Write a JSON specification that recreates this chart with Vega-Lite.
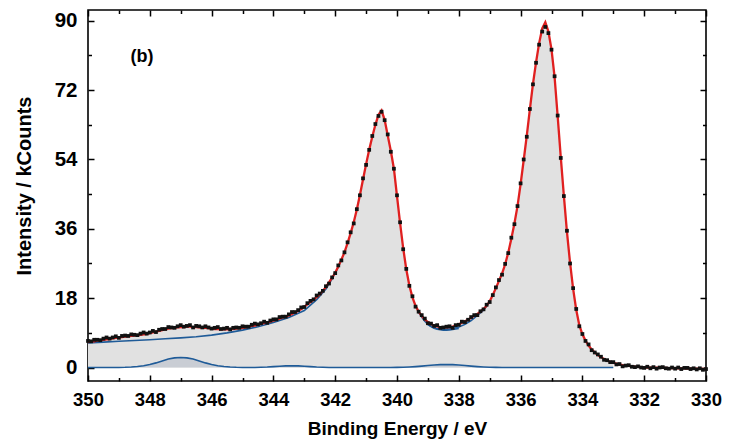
{
"$schema":"https://vega.github.io/schema/vega-lite/v6.json",
"width":618,"height":371,
"autosize":"none",
"padding":{"left":88,"top":10,"right":23,"bottom":65},
"config":{"view":{"stroke":"black","strokeWidth":1.6},"font":"Liberation Sans","axis":{"grid":false,"domain":false}},
"datasets":{
"spec":[
{"e":350.0,"f":6.6,"d":6.9},{"e":349.9,"f":6.7,"d":6.8},{"e":349.8,"f":6.8,"d":7.2},{"e":349.7,"f":7.0,"d":7.2},{"e":349.6,"f":7.1,"d":7.1},{"e":349.5,"f":7.2,"d":7.5},{"e":349.4,"f":7.3,"d":7.8},{"e":349.3,"f":7.4,"d":7.5},{"e":349.2,"f":7.6,"d":7.8},{"e":349.1,"f":7.7,"d":8.1},
{"e":349.0,"f":7.8,"d":7.7},{"e":348.9,"f":7.9,"d":8.2},{"e":348.8,"f":8.0,"d":8.3},{"e":348.7,"f":8.1,"d":8.2},{"e":348.6,"f":8.2,"d":8.6},{"e":348.5,"f":8.3,"d":8.5},{"e":348.4,"f":8.4,"d":8.4},{"e":348.3,"f":8.5,"d":8.8},{"e":348.2,"f":8.6,"d":9.1},{"e":348.1,"f":8.7,"d":8.8},
{"e":348.0,"f":8.9,"d":9.1},{"e":347.9,"f":9.1,"d":9.5},{"e":347.8,"f":9.3,"d":9.2},{"e":347.7,"f":9.5,"d":9.8},{"e":347.6,"f":9.7,"d":10.0},{"e":347.5,"f":9.9,"d":10.0},{"e":347.4,"f":10.1,"d":10.5},{"e":347.3,"f":10.2,"d":10.4},{"e":347.2,"f":10.3,"d":10.3},{"e":347.1,"f":10.4,"d":10.7},
{"e":347.0,"f":10.5,"d":11.0},{"e":346.9,"f":10.5,"d":10.6},{"e":346.8,"f":10.6,"d":10.8},{"e":346.7,"f":10.6,"d":11.0},{"e":346.6,"f":10.5,"d":10.4},{"e":346.5,"f":10.5,"d":10.8},{"e":346.4,"f":10.4,"d":10.7},{"e":346.3,"f":10.3,"d":10.4},{"e":346.2,"f":10.3,"d":10.7},{"e":346.1,"f":10.2,"d":10.4},
{"e":346.0,"f":10.1,"d":10.1},{"e":345.9,"f":10.0,"d":10.3},{"e":345.8,"f":10.0,"d":10.5},{"e":345.7,"f":9.9,"d":10.0},{"e":345.6,"f":9.9,"d":10.1},{"e":345.5,"f":9.9,"d":10.3},{"e":345.4,"f":10.0,"d":9.9},{"e":345.3,"f":10.0,"d":10.3},{"e":345.2,"f":10.1,"d":10.4},{"e":345.1,"f":10.2,"d":10.3},
{"e":345.0,"f":10.3,"d":10.7},{"e":344.9,"f":10.4,"d":10.6},{"e":344.8,"f":10.6,"d":10.6},{"e":344.7,"f":10.8,"d":11.1},{"e":344.6,"f":10.9,"d":11.4},{"e":344.5,"f":11.1,"d":11.2},{"e":344.4,"f":11.3,"d":11.5},{"e":344.3,"f":11.5,"d":11.9},{"e":344.2,"f":11.7,"d":11.6},{"e":344.1,"f":11.9,"d":12.2},
{"e":344.0,"f":12.2,"d":12.5},{"e":343.9,"f":12.4,"d":12.5},{"e":343.8,"f":12.7,"d":13.1},{"e":343.7,"f":13.0,"d":13.2},{"e":343.6,"f":13.2,"d":13.2},{"e":343.5,"f":13.5,"d":13.8},{"e":343.4,"f":13.9,"d":14.4},{"e":343.3,"f":14.3,"d":14.4},{"e":343.2,"f":14.7,"d":14.9},{"e":343.1,"f":15.2,"d":15.6},
{"e":343.0,"f":15.8,"d":15.7},{"e":342.9,"f":16.4,"d":16.7},{"e":342.8,"f":17.0,"d":17.3},{"e":342.7,"f":17.6,"d":17.7},{"e":342.6,"f":18.3,"d":18.7},{"e":342.5,"f":19.0,"d":19.2},{"e":342.4,"f":19.9,"d":19.9},{"e":342.3,"f":20.9,"d":21.1},{"e":342.2,"f":22.1,"d":21.8},{"e":342.1,"f":23.3,"d":23.4},
{"e":342.0,"f":24.6,"d":24.5},{"e":341.9,"f":26.2,"d":26.5},{"e":341.8,"f":28.0,"d":27.8},{"e":341.7,"f":29.9,"d":29.9},{"e":341.6,"f":32.3,"d":32.5},{"e":341.5,"f":34.9,"d":35.1},{"e":341.4,"f":37.7,"d":37.4},{"e":341.3,"f":41.0,"d":41.1},{"e":341.2,"f":44.8,"d":44.7},{"e":341.1,"f":48.8,"d":49.1},
{"e":341.0,"f":52.8,"d":52.6},{"e":340.9,"f":56.5,"d":56.5},{"e":340.8,"f":59.9,"d":60.1},{"e":340.7,"f":63.0,"d":63.2},{"e":340.6,"f":65.6,"d":65.3},{"e":340.5,"f":66.7,"d":66.4},{"e":340.4,"f":64.3,"d":64.2},{"e":340.3,"f":60.2,"d":60.5},{"e":340.2,"f":56.2,"d":56.0},{"e":340.1,"f":51.6,"d":51.6},
{"e":340.0,"f":44.5,"d":44.7},{"e":339.9,"f":37.5,"d":37.7},{"e":339.8,"f":31.0,"d":30.7},{"e":339.7,"f":25.5,"d":25.6},{"e":339.6,"f":21.3,"d":21.2},{"e":339.5,"f":18.2,"d":18.5},{"e":339.4,"f":16.0,"d":15.8},{"e":339.3,"f":14.5,"d":14.5},{"e":339.2,"f":13.4,"d":13.6},{"e":339.1,"f":12.5,"d":12.7},
{"e":339.0,"f":11.8,"d":11.5},{"e":338.9,"f":11.3,"d":11.4},{"e":338.8,"f":10.9,"d":10.8},{"e":338.7,"f":10.7,"d":11.0},{"e":338.6,"f":10.5,"d":10.3},{"e":338.5,"f":10.4,"d":10.4},{"e":338.4,"f":10.4,"d":10.6},{"e":338.3,"f":10.5,"d":10.7},{"e":338.2,"f":10.6,"d":10.3},{"e":338.1,"f":10.9,"d":11.0},
{"e":338.0,"f":11.2,"d":11.1},{"e":337.9,"f":11.6,"d":11.9},{"e":337.8,"f":12.0,"d":11.8},{"e":337.7,"f":12.4,"d":12.4},{"e":337.6,"f":12.9,"d":13.1},{"e":337.5,"f":13.4,"d":13.6},{"e":337.4,"f":13.9,"d":13.6},{"e":337.3,"f":14.5,"d":14.6},{"e":337.2,"f":15.2,"d":15.1},{"e":337.1,"f":16.0,"d":16.3},
{"e":337.0,"f":17.2,"d":17.0},{"e":336.9,"f":18.8,"d":18.8},{"e":336.8,"f":20.6,"d":20.8},{"e":336.7,"f":22.5,"d":22.7},{"e":336.6,"f":24.4,"d":24.1},{"e":336.5,"f":26.8,"d":26.9},{"e":336.4,"f":29.8,"d":29.7},{"e":336.3,"f":33.4,"d":33.7},{"e":336.2,"f":37.4,"d":37.2},{"e":336.1,"f":41.9,"d":41.9},
{"e":336.0,"f":47.6,"d":47.8},{"e":335.9,"f":53.8,"d":54.0},{"e":335.8,"f":60.2,"d":59.9},{"e":335.7,"f":67.0,"d":67.1},{"e":335.6,"f":73.6,"d":73.5},{"e":335.5,"f":79.2,"d":79.1},{"e":335.4,"f":84.2,"d":83.8},{"e":335.3,"f":88.0,"d":87.2},{"e":335.2,"f":89.6,"d":88.4},{"e":335.1,"f":87.2,"d":86.8},
{"e":335.0,"f":82.6,"d":82.5},{"e":334.9,"f":75.4,"d":75.6},{"e":334.8,"f":65.2,"d":65.4},{"e":334.7,"f":54.6,"d":54.4},{"e":334.6,"f":44.6,"d":44.5},{"e":334.5,"f":35.2,"d":35.5},{"e":334.4,"f":27.2,"d":27.0},{"e":334.3,"f":20.4,"d":20.6},{"e":334.2,"f":15.0,"d":15.2},{"e":334.1,"f":11.0,"d":10.7},
{"e":334.0,"f":8.6,"d":8.7},{"e":333.9,"f":7.0,"d":6.9},{"e":333.8,"f":5.7,"d":6.0},{"e":333.7,"f":4.7,"d":4.5},{"e":333.6,"f":3.9,"d":3.9},{"e":333.5,"f":3.2,"d":3.4},{"e":333.4,"f":2.7,"d":2.8},{"e":333.3,"f":2.2,"d":2.0},{"e":333.2,"f":1.8,"d":1.9},{"e":333.1,"f":1.5,"d":1.4},
{"e":333.0,"f":1.2,"d":1.4},{"e":332.9,"f":1.0,"d":0.8},{"e":332.8,"f":0.8,"d":0.9},{"e":332.7,"f":0.6,"d":0.3},{"e":332.6,"f":0.5,"d":0.5},{"e":332.5,"f":0.4,"d":0.6},{"e":332.4,"f":0.3,"d":0.2},{"e":332.3,"f":0.2,"d":0.1},{"e":332.2,"f":0.15,"d":0.3},{"e":332.1,"f":0.1,"d":0.0},
{"e":332.0,"f":0.05,"d":-0.1},{"e":331.9,"f":0.0,"d":0.2},{"e":331.8,"f":-0.02,"d":-0.2},{"e":331.7,"f":-0.04,"d":0.1},{"e":331.6,"f":-0.06,"d":-0.3},{"e":331.5,"f":-0.08,"d":0.0},{"e":331.4,"f":-0.1,"d":0.1},{"e":331.3,"f":-0.12,"d":-0.2},{"e":331.2,"f":-0.14,"d":-0.3},{"e":331.1,"f":-0.16,"d":0.0},
{"e":331.0,"f":-0.18,"d":-0.3},{"e":330.9,"f":-0.2,"d":0.0},{"e":330.8,"f":-0.22,"d":-0.4},{"e":330.7,"f":-0.24,"d":-0.1},{"e":330.6,"f":-0.26,"d":-0.1},{"e":330.5,"f":-0.28,"d":-0.4},{"e":330.4,"f":-0.3,"d":-0.2},{"e":330.3,"f":-0.32,"d":-0.5},{"e":330.2,"f":-0.34,"d":-0.2},{"e":330.1,"f":-0.36,"d":-0.6},
{"e":330.0,"f":-0.38,"d":-0.4}
],
"blue":[
{"g":"A","e":350.0,"v":6.4},{"g":"A","e":349.5,"v":6.6},{"g":"A","e":349.0,"v":6.8},{"g":"A","e":348.5,"v":7.0},{"g":"A","e":348.0,"v":7.2},{"g":"A","e":347.5,"v":7.45},{"g":"A","e":347.0,"v":7.7},{"g":"A","e":346.5,"v":8.0},{"g":"A","e":346.0,"v":8.4},{"g":"A","e":345.5,"v":9.0},{"g":"A","e":345.0,"v":9.7},{"g":"A","e":344.5,"v":10.6},{"g":"A","e":344.0,"v":11.7},{"g":"A","e":343.5,"v":13.0},{"g":"A","e":343.0,"v":14.8},{"g":"A","e":342.6,"v":17.6},{"g":"A","e":342.3,"v":20.4},{"g":"A","e":342.1,"v":23.0},{"g":"A","e":341.9,"v":26.1},
{"g":"V1","e":339.3,"v":14.3},{"g":"V1","e":339.2,"v":13.1},{"g":"V1","e":339.1,"v":12.0},{"g":"V1","e":339.0,"v":11.2},{"g":"V1","e":338.9,"v":10.6},{"g":"V1","e":338.8,"v":10.2},{"g":"V1","e":338.7,"v":9.95},{"g":"V1","e":338.6,"v":9.8},{"g":"V1","e":338.5,"v":9.7},{"g":"V1","e":338.4,"v":9.7},{"g":"V1","e":338.3,"v":9.75},{"g":"V1","e":338.2,"v":9.85},{"g":"V1","e":338.1,"v":10.0},{"g":"V1","e":338.0,"v":10.15},
{"g":"V2","e":339.0,"v":11.1},{"g":"V2","e":338.8,"v":10.3},{"g":"V2","e":338.6,"v":9.95},{"g":"V2","e":338.4,"v":9.9},{"g":"V2","e":338.2,"v":10.1},{"g":"V2","e":338.0,"v":10.5},{"g":"V2","e":337.8,"v":11.2},{"g":"V2","e":337.6,"v":12.2},{"g":"V2","e":337.4,"v":13.5},{"g":"V2","e":337.2,"v":14.9},{"g":"V2","e":337.0,"v":17.0}
],
"sat":[
{"e":350.0,"v":0},{"e":349.4,"v":0},{"e":349.2,"v":0.01},{"e":349.0,"v":0.02},{"e":348.8,"v":0.05},{"e":348.6,"v":0.12},{"e":348.4,"v":0.25},{"e":348.2,"v":0.47},{"e":348.0,"v":0.8},{"e":347.8,"v":1.2},{"e":347.6,"v":1.7},{"e":347.4,"v":2.2},{"e":347.2,"v":2.5},{"e":347.0,"v":2.6},{"e":346.8,"v":2.5},{"e":346.6,"v":2.2},{"e":346.4,"v":1.7},{"e":346.2,"v":1.2},{"e":346.0,"v":0.8},{"e":345.8,"v":0.47},{"e":345.6,"v":0.25},{"e":345.4,"v":0.12},{"e":345.2,"v":0.05},{"e":345.0,"v":0.02},{"e":344.8,"v":0.01},{"e":344.6,"v":0.02},{"e":344.4,"v":0.06},{"e":344.2,"v":0.12},{"e":344.0,"v":0.22},{"e":343.8,"v":0.33},{"e":343.6,"v":0.42},{"e":343.4,"v":0.45},{"e":343.2,"v":0.42},{"e":343.0,"v":0.33},{"e":342.8,"v":0.22},{"e":342.6,"v":0.12},{"e":342.4,"v":0.06},{"e":342.2,"v":0.02},{"e":342.0,"v":0.01},{"e":341.8,"v":0},{"e":340.2,"v":0},{"e":340.0,"v":0.03},{"e":339.8,"v":0.07},{"e":339.6,"v":0.14},{"e":339.4,"v":0.24},{"e":339.2,"v":0.37},{"e":339.0,"v":0.52},{"e":338.8,"v":0.66},{"e":338.6,"v":0.76},{"e":338.4,"v":0.8},{"e":338.2,"v":0.76},{"e":338.0,"v":0.66},{"e":337.8,"v":0.52},{"e":337.6,"v":0.37},{"e":337.4,"v":0.24},{"e":337.2,"v":0.14},{"e":337.0,"v":0.07},{"e":336.8,"v":0.03},{"e":336.6,"v":0.01},{"e":336.4,"v":0},{"e":333.0,"v":0}
],
"lab":[{"e":348.25,"v":80.6,"t":"(b)"}]
},
"layer":[
{"data":{"name":"spec"},"transform":[{"filter":"datum.e >= 333.0"}],
 "mark":{"type":"area","color":"#e1e1e1"},
 "encoding":{
  "x":{"field":"e","type":"quantitative","scale":{"domain":[330,350],"reverse":true,"nice":false,"zero":false},
   "axis":{"orient":"bottom","values":[330,331,332,333,334,335,336,337,338,339,340,341,342,343,344,345,346,347,348,349,350],
    "labelExpr":"datum.value % 2 === 0 ? datum.label : ''",
    "tickSize":{"condition":{"test":"datum.value % 2 === 0","value":-6},"value":-3.5},
    "tickColor":"black","tickWidth":1.5,"labelFont":"Liberation Sans","labelFontWeight":"bold","labelFontSize":18.5,"labelColor":"black","labelPadding":15,"labelOverlap":false,"labelFlush":false,
    "title":"Binding Energy / eV","titleFont":"Liberation Sans","titleFontSize":19,"titleFontWeight":"bold","titleColor":"black","titleY":38,"titleBaseline":"top"}},
  "y":{"field":"f","type":"quantitative","scale":{"domain":[-3.5,92.8],"nice":false,"zero":false},
   "axis":{"orient":"left","values":[0,9,18,27,36,45,54,63,72,81,90],
    "labelExpr":"datum.value % 18 === 0 ? datum.label : ''",
    "tickSize":{"condition":{"test":"datum.value % 18 === 0","value":-6},"value":-3.5},
    "tickColor":"black","tickWidth":1.5,"labelFont":"Liberation Sans","labelFontWeight":"bold","labelFontSize":20.5,"labelColor":"black","labelPadding":17,"labelOverlap":false,"labelFlush":false,
    "title":"Intensity / kCounts","titleFont":"Liberation Sans","titleFontSize":20,"titleFontWeight":"bold","titleColor":"black","titleX":-63.5,"titleY":175.5,"titleBaseline":"middle","titleAlign":"center","titleAngle":-90}},
  "y2":{"datum":0}}},
{"data":{"name":"sat"},
 "mark":{"type":"area","color":"#c9cdd4"},
 "encoding":{
  "x":{"field":"e","type":"quantitative","scale":{"domain":[330,350],"reverse":true,"nice":false,"zero":false},"axis":null},
  "y":{"field":"v","type":"quantitative","scale":{"domain":[-3.5,92.8],"nice":false,"zero":false},"axis":null},
  "y2":{"datum":0}}},
{"data":{"name":"sat"},
 "mark":{"type":"line","color":"#1f5b98","strokeWidth":1.6},
 "encoding":{
  "x":{"field":"e","type":"quantitative","scale":{"domain":[330,350],"reverse":true,"nice":false,"zero":false},"axis":null},
  "y":{"field":"v","type":"quantitative","scale":{"domain":[-3.5,92.8],"nice":false,"zero":false},"axis":null},
  "order":{"field":"e","sort":"descending"}}},
{"data":{"name":"blue"},
 "mark":{"type":"line","color":"#1f5b98","strokeWidth":1.6},
 "encoding":{
  "x":{"field":"e","type":"quantitative","scale":{"domain":[330,350],"reverse":true,"nice":false,"zero":false},"axis":null},
  "y":{"field":"v","type":"quantitative","scale":{"domain":[-3.5,92.8],"nice":false,"zero":false},"axis":null},
  "detail":{"field":"g","type":"nominal"},
  "order":{"field":"e","sort":"descending"}}},
{"data":{"name":"spec"},
 "mark":{"type":"line","color":"#e02020","strokeWidth":2.3},
 "encoding":{
  "x":{"field":"e","type":"quantitative","scale":{"domain":[330,350],"reverse":true,"nice":false,"zero":false},"axis":null},
  "y":{"field":"f","type":"quantitative","scale":{"domain":[-3.5,92.8],"nice":false,"zero":false},"axis":null},
  "order":{"field":"e","sort":"descending"}}},
{"data":{"name":"spec"},
 "mark":{"type":"point","shape":"square","filled":true,"color":"#111111","size":14,"opacity":1},
 "encoding":{
  "x":{"field":"e","type":"quantitative","scale":{"domain":[330,350],"reverse":true,"nice":false,"zero":false},"axis":null},
  "y":{"field":"d","type":"quantitative","scale":{"domain":[-3.5,92.8],"nice":false,"zero":false},"axis":null}}},
{"data":{"name":"lab"},
 "mark":{"type":"text","font":"Liberation Sans","fontWeight":"bold","fontSize":18,"color":"black","align":"center","baseline":"middle"},
 "encoding":{
  "x":{"field":"e","type":"quantitative","scale":{"domain":[330,350],"reverse":true,"nice":false,"zero":false},
   "axis":{"orient":"top","values":[330,331,332,333,334,335,336,337,338,339,340,341,342,343,344,345,346,347,348,349,350],"labels":false,"title":null,
    "tickSize":{"condition":{"test":"datum.value % 2 === 0","value":-6},"value":-3.5},"tickColor":"black","tickWidth":1.5}},
  "y":{"field":"v","type":"quantitative","scale":{"domain":[-3.5,92.8],"nice":false,"zero":false},
   "axis":{"orient":"right","values":[0,9,18,27,36,45,54,63,72,81,90],"labels":false,"title":null,
    "tickSize":{"condition":{"test":"datum.value % 18 === 0","value":-6},"value":-3.5},"tickColor":"black","tickWidth":1.5}},
  "text":{"field":"t"}}}
],
"resolve":{"axis":{"x":"independent","y":"independent"}}
}
